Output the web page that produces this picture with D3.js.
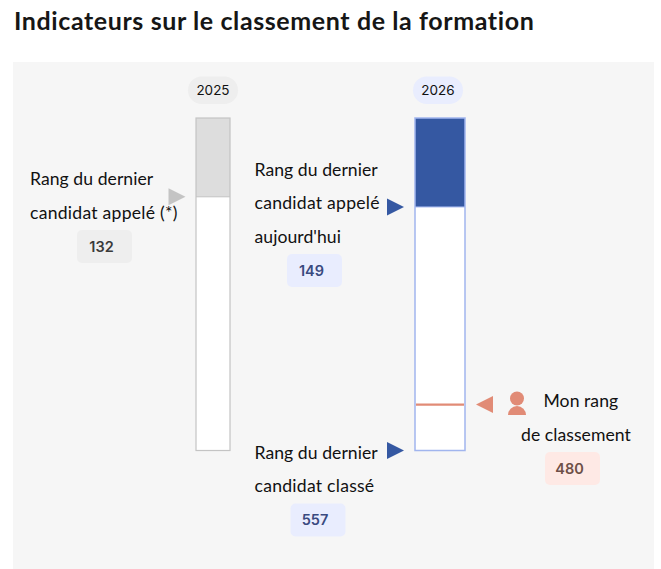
<!DOCTYPE html>
<html>
<head>
<meta charset="utf-8">
<script src="https://cdn.jsdelivr.net/npm/d3@7"></script>
<style>
  html, body { margin: 0; padding: 0; background: #fff; overflow: hidden; }
  svg { display: block; }
  text { font-family: Lato, sans-serif; }
  .title { font-size: 25px; font-weight: 700; fill: #161616; letter-spacing: 0.6px; }
  .lbl { font-size: 17.6px; fill: #111; letter-spacing: 0.05px; }
  .wide { letter-spacing: 0.25px; }
  .year { font-family: Inter, sans-serif; font-size: 13.5px; font-weight: 400; fill: #111; text-anchor: middle; }
  .val { font-family: Inter, sans-serif; font-size: 14.5px; font-weight: 600; text-anchor: middle; }
</style>
</head>
<body>
<svg id="chart" width="661" height="569"></svg>
<script>
const years = ["2025", "2026"];
const lastCalled = [132, 149];
const lastRanked = 557;
const myRank = 480;

const svg = d3.select("#chart");

svg.append("text").attr("class", "title").attr("x", 14).attr("y", 30)
  .text("Indicateurs sur le classement de la formation");

svg.append("rect").attr("x", 13).attr("y", 62).attr("width", 641).attr("height", 507).attr("fill", "#f6f6f6");

const y = d3.scaleLinear().domain([0, lastRanked]).range([118, 450.5]);

const bars = [
  { year: years[0], called: lastCalled[0], x: 196, w: 34, cx: 213, stroke: "#c4c4c4", fill: "#dddddd", pill: "#eeeeee", sw: 1.2 },
  { year: years[1], called: lastCalled[1], x: 415, w: 50, cx: 438, stroke: "#a1b5ee", fill: "#3558a2", pill: "#e9edfe", sw: 1.5 }
];

bars.forEach(b => {
  svg.append("rect").attr("x", b.cx - 25).attr("y", 76.5).attr("width", 50).attr("height", 27.5).attr("rx", 13.75).attr("fill", b.pill);
  svg.append("text").attr("class", "year").attr("x", b.cx).attr("y", 95).text(b.year);
  svg.append("rect").attr("x", b.x).attr("y", y(0)).attr("width", b.w).attr("height", y(lastRanked) - y(0))
    .attr("fill", "#fff");
  svg.append("rect").attr("x", b.x).attr("y", y(0)).attr("width", b.w).attr("height", y(b.called) - y(0))
    .attr("fill", b.fill);
  svg.append("line").attr("x1", b.x).attr("x2", b.x + b.w).attr("y1", y(b.called)).attr("y2", y(b.called))
    .attr("stroke", b.stroke).attr("stroke-width", 1);
  svg.append("rect").attr("x", b.x).attr("y", y(0)).attr("width", b.w).attr("height", y(lastRanked) - y(0))
    .attr("fill", "none").attr("stroke", b.stroke).attr("stroke-width", b.sw);
});

// my rank line
svg.append("line").attr("x1", 416).attr("x2", 464).attr("y1", y(myRank)).attr("y2", y(myRank))
  .attr("stroke", "#e18b76").attr("stroke-width", 2.2);

function arrow(x, yc, dir, color) {
  const p = dir > 0
    ? [[x, yc - 8.5], [x + 17, yc], [x, yc + 8.5]]
    : [[x + 17, yc - 8.5], [x, yc], [x + 17, yc + 8.5]];
  svg.append("path").attr("d", d3.line()(p) + "Z").attr("fill", color);
}
arrow(168.5, y(lastCalled[0]), 1, "#c4c4c4");
arrow(387, y(lastCalled[1]), 1, "#3558a2");
arrow(387, y(lastRanked), 1, "#3558a2");
arrow(476, y(myRank), -1, "#e18b76");

function labelLines(lines) {
  lines.forEach(l => svg.append("text")
    .attr("class", l[2].startsWith("candidat") ? "lbl wide" : "lbl")
    .attr("x", l[0]).attr("y", l[1]).text(l[2]));
}
labelLines([
  [30, 185, "Rang du dernier"],
  [30, 219, "candidat appelé (*)"],
  [254.5, 176, "Rang du dernier"],
  [254.5, 209, "candidat appelé"],
  [254.5, 243, "aujourd'hui"],
  [254.5, 459, "Rang du dernier"],
  [254.5, 492, "candidat classé"],
  [543.5, 407, "Mon rang"],
  [521, 441, "de classement"]
]);

function valuePill(x, yTop, value, bg, color) {
  svg.append("rect").attr("x", x).attr("y", yTop).attr("width", 55).attr("height", 33).attr("rx", 5).attr("fill", bg);
  svg.append("text").attr("class", "val").attr("x", x + 24.5).attr("y", yTop + 21.5).attr("fill", color).text(value);
}
valuePill(77, 230, lastCalled[0], "#eeeeee", "#3a3a3a");
valuePill(287, 254, lastCalled[1], "#e9edfe", "#3a4a80");
valuePill(290.5, 503.5, lastRanked, "#e9edfe", "#3a4a80");
valuePill(545, 452, myRank, "#fee9e5", "#6e5048");

// person icon
const icon = svg.append("g").attr("fill", "#e18b76");
icon.append("circle").attr("cx", 517).attr("cy", 398.5).attr("r", 7);
icon.append("path").attr("d", "M508,415 A9,9 0 0 1 526,415 Z");
</script>
</body>
</html>
